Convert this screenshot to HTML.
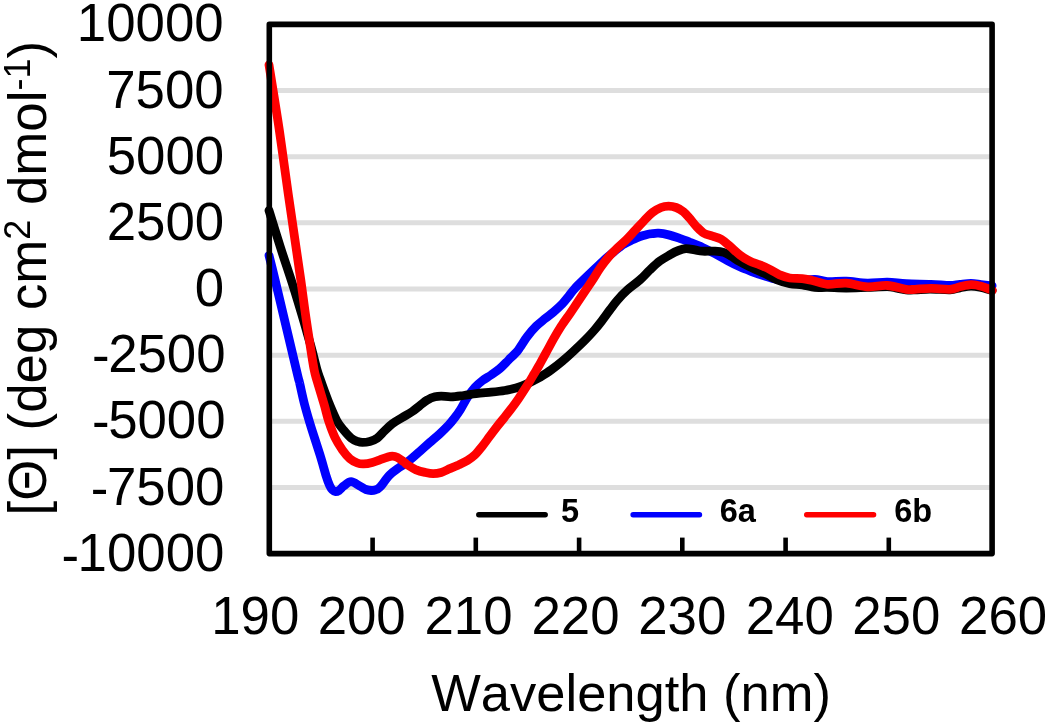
<!DOCTYPE html>
<html><head><meta charset="utf-8"><title>CD spectra</title>
<style>
html,body{margin:0;padding:0;background:#fff;}
body{width:1050px;height:726px;overflow:hidden;}
svg{display:block;will-change:transform;font-family:"Liberation Sans",sans-serif;font-kerning:none;}
text{fill:#000;}
</style></head>
<body>
<svg width="1050" height="726" viewBox="0 0 1050 726">
<rect width="1050" height="726" fill="#fff"/>
<g stroke="#dedede" stroke-width="5" fill="none"><line x1="269.3" x2="992.1" y1="90.55" y2="90.55"/><line x1="269.3" x2="992.1" y1="156.70" y2="156.70"/><line x1="269.3" x2="992.1" y1="222.85" y2="222.85"/><line x1="269.3" x2="992.1" y1="289.00" y2="289.00"/><line x1="269.3" x2="992.1" y1="355.15" y2="355.15"/><line x1="269.3" x2="992.1" y1="421.30" y2="421.30"/><line x1="269.3" x2="992.1" y1="487.45" y2="487.45"/></g>
<g fill="none" stroke-width="8.8" stroke-linecap="round" stroke-linejoin="round">
<path stroke="#0000ff" d="M269.0 255.4C270.0 259.5 270.5 260.9 275.1 280.0C279.7 299.1 292.3 353.0 296.4 370.0C300.4 387.0 298.0 376.2 299.4 382.0C300.8 387.8 302.6 397.0 304.7 405.0C306.8 413.0 309.4 421.7 312.0 430.0C314.6 438.3 317.6 447.2 320.0 454.9C322.4 462.6 324.6 470.9 326.2 476.1C327.8 481.3 328.8 483.8 329.9 486.1C330.9 488.4 331.6 489.1 332.5 490.0C333.4 490.9 334.4 491.6 335.5 491.7C336.6 491.8 337.6 491.4 339.0 490.5C340.4 489.6 341.6 487.6 343.6 486.1C345.6 484.6 348.4 481.7 351.1 481.7C353.8 481.7 357.4 484.8 359.9 486.1C362.4 487.4 364.1 488.8 366.0 489.5C367.9 490.2 369.5 490.4 371.1 490.5C372.7 490.6 374.1 490.3 375.5 489.8C376.9 489.3 377.4 489.8 379.8 487.3C382.2 484.8 386.4 478.3 389.8 474.9C393.2 471.5 396.6 469.5 400.0 467.0C403.4 464.5 406.7 462.5 410.0 459.9C413.3 457.3 416.7 454.1 420.0 451.2C423.3 448.3 426.6 445.3 429.9 442.4C433.2 439.5 436.8 436.6 439.9 433.7C443.0 430.8 446.2 427.7 448.7 425.0C451.2 422.3 452.9 420.1 454.9 417.5C456.9 414.9 458.4 412.9 460.5 409.5C462.6 406.1 465.0 401.1 467.4 397.4C469.8 393.7 472.4 390.2 474.9 387.4C477.4 384.6 479.7 382.7 482.4 380.6C485.1 378.5 488.2 377.0 491.1 375.0C494.0 373.0 496.9 371.2 499.8 368.7C502.7 366.2 505.7 362.9 508.6 360.0C511.5 357.1 515.4 353.3 517.3 351.2C519.2 349.1 518.3 349.9 520.0 347.4C521.7 344.9 524.8 339.7 527.5 336.2C530.2 332.7 533.3 329.1 536.2 326.2C539.1 323.3 542.1 321.1 545.0 318.7C547.9 316.3 550.8 314.3 553.7 311.8C556.6 309.3 559.9 306.3 562.4 303.7C564.9 301.1 566.7 298.7 568.7 296.2C570.7 293.7 572.1 291.5 574.5 288.8C576.9 286.1 580.0 283.2 583.3 280.0C586.6 276.8 590.6 273.0 594.5 269.3C598.4 265.6 602.7 261.4 606.7 257.8C610.8 254.2 616.0 250.1 618.8 247.9C621.6 245.7 621.3 245.7 623.3 244.4C625.3 243.2 628.2 241.7 631.0 240.4C633.8 239.1 637.4 237.4 639.9 236.5C642.4 235.6 644.2 235.2 646.2 234.7C648.2 234.2 649.9 233.9 652.0 233.7C654.1 233.4 655.8 233.0 658.6 233.2C661.4 233.4 664.9 234.0 668.6 234.9C672.4 235.8 677.5 237.6 681.1 238.8C684.7 240.0 686.4 240.9 690.0 242.3C693.6 243.7 698.3 245.5 702.5 247.4C706.7 249.3 710.9 251.5 715.0 253.7C719.1 255.9 723.2 258.3 727.4 260.5C731.5 262.7 735.7 264.9 739.9 266.8C744.1 268.7 748.2 270.2 752.4 271.8C756.6 273.4 760.8 274.8 764.9 276.1C769.0 277.4 772.8 278.7 777.0 279.5C781.2 280.3 785.8 280.8 790.0 281.0C794.2 281.2 797.9 280.8 802.0 280.5C806.1 280.2 810.6 279.1 814.8 279.3C819.0 279.5 822.2 281.3 827.4 281.6C832.6 281.9 839.5 280.9 846.2 281.2C852.9 281.4 860.5 283.0 867.4 283.1C874.2 283.2 880.8 282.0 887.3 282.1C893.8 282.2 898.8 283.3 906.1 283.7C913.4 284.1 923.7 284.0 931.0 284.3C938.3 284.6 945.2 285.5 950.0 285.5C954.8 285.5 956.5 284.6 960.0 284.3C963.5 284.0 967.5 283.5 971.0 283.5C974.5 283.5 977.5 284.1 981.0 284.5C984.5 284.9 990.2 285.6 992.1 285.8"/>
<path stroke="#000000" d="M269.0 210.5C270.9 216.7 276.7 235.5 280.5 247.5C284.3 259.5 288.3 270.9 292.0 282.5C295.7 294.1 300.0 308.5 302.7 317.4C305.4 326.3 306.4 330.6 308.0 336.0C309.6 341.4 310.5 344.3 312.0 350.0C313.5 355.7 315.7 365.0 317.1 370.0C318.5 375.0 319.2 376.2 320.5 380.0C321.8 383.8 323.4 388.3 325.0 392.5C326.6 396.7 327.8 400.2 329.8 405.0C331.8 409.8 334.7 416.8 337.0 421.0C339.3 425.2 341.2 427.1 343.6 430.0C346.0 432.9 348.8 436.2 351.1 438.1C353.4 440.0 355.5 440.7 357.4 441.4C359.3 442.1 360.3 442.4 362.4 442.4C364.5 442.4 367.3 442.1 369.8 441.4C372.3 440.7 374.8 439.9 377.3 438.1C379.8 436.3 382.3 433.0 384.8 430.6C387.3 428.2 389.4 425.9 392.3 423.7C395.2 421.5 399.0 419.5 402.3 417.5C405.6 415.5 409.4 413.5 412.3 411.5C415.2 409.5 417.5 407.4 420.0 405.5C422.5 403.6 425.0 401.3 427.5 399.9C430.0 398.4 432.7 397.4 435.0 396.8C437.3 396.2 438.5 396.2 441.2 396.2C443.9 396.2 447.5 396.9 451.2 396.8C454.9 396.7 459.5 396.0 463.6 395.5C467.8 395.0 471.5 394.2 476.1 393.7C480.7 393.1 486.3 392.7 491.1 392.2C495.9 391.7 500.7 391.2 504.8 390.5C508.9 389.8 512.5 389.1 516.0 388.1C519.5 387.1 522.9 385.7 526.0 384.3C529.1 382.9 532.5 381.1 534.8 379.9C537.1 378.7 537.3 379.0 540.0 377.3C542.7 375.6 547.5 372.6 551.2 369.9C554.9 367.2 558.7 364.2 562.4 361.1C566.1 358.0 569.9 354.6 573.6 351.1C577.4 347.6 581.4 343.9 584.9 340.3C588.4 336.7 592.0 332.9 594.9 329.5C597.8 326.1 599.8 323.4 602.3 320.2C604.8 316.9 607.3 313.3 609.8 310.0C612.3 306.7 614.4 303.6 617.3 300.3C620.2 297.0 623.2 293.7 627.0 290.3C630.8 286.9 636.1 283.3 639.9 279.9C643.7 276.5 646.6 273.0 649.9 269.9C653.2 266.8 656.5 263.6 659.8 261.1C663.1 258.6 666.7 256.7 669.8 254.9C672.9 253.1 675.9 251.5 678.6 250.5C681.3 249.5 683.3 248.8 686.0 248.7C688.7 248.6 692.0 249.5 694.8 249.9C697.5 250.3 699.1 251.0 702.5 251.2C705.9 251.4 711.5 251.0 715.0 251.2C718.5 251.4 721.0 251.6 723.7 252.4C726.4 253.2 728.5 254.6 731.2 256.2C733.9 257.8 736.4 259.8 739.9 261.8C743.4 263.8 748.2 266.0 752.4 268.0C756.6 270.0 760.8 271.6 764.9 273.6C769.0 275.6 773.1 278.2 777.3 279.9C781.4 281.6 785.6 282.8 789.8 283.6C794.0 284.4 798.1 284.3 802.3 284.9C806.5 285.5 810.6 287.0 814.8 287.4C819.0 287.8 822.2 287.3 827.4 287.4C832.6 287.5 839.5 288.0 846.2 288.0C852.9 288.0 860.5 287.6 867.4 287.4C874.2 287.1 882.4 286.4 887.3 286.5C892.2 286.6 893.9 287.6 897.0 288.2C900.1 288.8 903.0 289.5 906.0 289.8C909.0 290.1 911.0 290.0 915.0 289.9C919.0 289.8 924.2 289.0 930.0 289.0C935.8 289.0 945.0 290.0 950.0 289.8C955.0 289.6 956.5 288.4 960.0 287.8C963.5 287.2 967.5 286.2 971.0 286.2C974.5 286.1 977.5 286.8 981.0 287.5C984.5 288.2 990.2 290.0 992.1 290.5"/>
<path stroke="#ff0000" d="M269.0 64.9C270.7 75.8 276.1 108.3 279.3 130.0C282.5 151.7 284.8 170.0 288.4 195.0C292.0 220.0 297.9 259.6 300.8 280.0C303.7 300.4 304.4 307.0 305.9 317.4C307.4 327.8 308.3 333.6 309.7 342.4C311.1 351.2 312.9 363.4 314.2 370.0C315.5 376.6 315.7 376.2 317.4 382.0C319.1 387.8 322.4 398.5 324.3 405.0C326.2 411.5 326.9 415.8 328.7 421.2C330.5 426.6 332.6 432.6 334.9 437.4C337.2 442.2 339.9 446.3 342.4 449.9C344.9 453.4 347.4 456.5 349.9 458.7C352.4 460.9 355.1 462.1 357.4 463.0C359.7 463.9 361.1 464.0 363.6 463.9C366.1 463.8 369.6 463.1 372.3 462.4C375.0 461.7 377.3 460.8 379.8 459.9C382.3 459.0 385.2 457.8 387.3 457.2C389.4 456.6 390.6 456.2 392.3 456.2C394.0 456.2 395.4 456.4 397.3 457.4C399.2 458.4 402.3 460.8 404.0 462.0C405.7 463.2 405.5 463.6 407.5 464.9C409.5 466.2 413.3 468.6 416.2 469.9C419.1 471.1 422.2 471.8 425.0 472.4C427.8 473.0 430.4 473.6 433.1 473.6C435.8 473.6 438.4 473.2 441.2 472.4C444.0 471.6 447.0 469.9 449.9 468.6C452.8 467.4 455.7 466.2 458.6 464.9C461.5 463.5 464.7 462.2 467.4 460.5C470.1 458.8 472.4 457.3 474.9 454.9C477.4 452.5 479.8 449.3 482.3 446.2C484.8 443.1 487.3 439.5 489.8 436.2C492.3 432.9 494.8 429.4 497.3 426.2C499.8 423.0 502.5 419.8 504.8 416.9C507.1 414.0 508.7 412.0 511.0 409.0C513.3 406.0 515.9 402.5 518.5 398.7C521.1 394.9 524.1 390.3 526.7 386.2C529.3 382.1 532.0 377.4 534.0 374.0C536.0 370.6 537.0 369.1 539.0 365.5C541.0 361.9 543.8 356.9 546.2 352.4C548.7 347.9 551.2 343.1 553.7 338.7C556.2 334.3 558.5 330.4 561.2 326.2C563.9 322.0 567.2 317.6 569.9 313.7C572.6 309.8 574.7 306.5 577.4 302.5C580.1 298.5 583.4 293.5 586.1 289.5C588.8 285.5 591.1 282.2 593.5 278.5C595.9 274.8 598.0 271.1 600.5 267.5C603.0 263.9 605.9 260.1 608.7 256.8C611.5 253.6 614.5 250.8 617.4 248.0C620.3 245.2 623.3 242.8 626.2 239.9C629.1 237.0 632.0 233.7 634.9 230.6C637.8 227.5 640.7 224.2 643.6 221.2C646.5 218.2 649.5 214.8 652.4 212.5C655.3 210.2 658.4 208.6 661.1 207.5C663.8 206.4 666.1 206.2 668.6 206.2C671.1 206.2 673.6 206.6 676.1 207.5C678.6 208.4 681.3 210.0 683.6 211.9C685.9 213.8 687.9 216.3 690.0 218.7C692.1 221.1 693.9 223.8 696.2 226.2C698.5 228.6 701.0 231.4 703.7 233.1C706.4 234.8 709.6 235.2 712.5 236.2C715.4 237.2 718.3 237.6 721.2 239.3C724.1 241.0 726.8 243.6 729.9 246.2C733.0 248.8 736.6 252.4 739.9 254.9C743.2 257.4 746.6 259.5 749.9 261.2C753.2 262.9 756.6 263.5 759.9 264.9C763.2 266.2 766.5 267.6 769.8 269.3C773.1 271.0 776.5 273.4 779.8 274.9C783.1 276.3 786.0 277.4 789.8 278.0C793.5 278.6 798.5 278.2 802.3 278.6C806.0 279.0 808.1 279.6 812.3 280.5C816.5 281.4 821.8 283.9 827.4 284.3C833.0 284.7 839.5 282.7 846.2 283.1C852.9 283.5 860.5 286.4 867.4 286.8C874.2 287.2 880.8 285.1 887.3 285.5C893.8 285.9 901.5 288.7 906.1 289.3C910.7 289.9 910.8 289.5 915.0 289.3C919.2 289.1 925.4 288.4 931.2 288.4C937.0 288.4 945.1 289.6 949.9 289.3C954.7 289.0 956.4 287.6 959.9 286.8C963.4 286.0 967.6 284.8 971.1 284.7C974.6 284.6 978.0 285.4 981.1 286.2C984.2 287.0 987.9 288.6 989.8 289.3C991.7 290.0 991.9 290.3 992.3 290.5"/>
</g>
<g stroke="#000" stroke-width="4.6" fill="none"><line x1="372.6" x2="372.6" y1="537.6" y2="553.6"/><line x1="475.8" x2="475.8" y1="537.6" y2="553.6"/><line x1="579.1" x2="579.1" y1="537.6" y2="553.6"/><line x1="682.3" x2="682.3" y1="537.6" y2="553.6"/><line x1="785.6" x2="785.6" y1="537.6" y2="553.6"/><line x1="888.8" x2="888.8" y1="537.6" y2="553.6"/></g>
<rect x="269.3" y="24.4" width="722.8" height="529.2" fill="none" stroke="#000" stroke-width="5.6" stroke-linejoin="round"/>
<g stroke-width="5.4" stroke-linecap="round" fill="none">
<line x1="478.8" x2="545.2" y1="514.8" y2="514.8" stroke="#000"/>
<line x1="633.1" x2="699.5" y1="514.8" y2="514.8" stroke="#0000ff"/>
<line x1="806.7" x2="873.6" y1="514.8" y2="514.8" stroke="#ff0000"/>
</g>
<g font-size="32.5" font-weight="bold">
<text x="561" y="522.2">5</text>
<text x="719.8" y="522.2">6a</text>
<text x="894.3" y="522.2">6b</text>
</g>
<g font-size="52.8"><text x="223.7" y="41.4" text-anchor="end">10000</text><text x="223.7" y="107.5" text-anchor="end">7500</text><text x="224.2" y="173.7" text-anchor="end">5000</text><text x="224.2" y="239.9" text-anchor="end">2500</text><text x="224.2" y="306.0" text-anchor="end">0</text><text x="224.2" y="372.1" text-anchor="end"><tspan dy="0.5" dx="1.4">-</tspan><tspan dy="-0.5" dx="-1.4">2500</tspan></text><text x="224.2" y="438.3" text-anchor="end"><tspan dy="1.0" dx="1.4">-</tspan><tspan dy="-1.0" dx="-1.4">5000</tspan></text><text x="223.0" y="504.5" text-anchor="end"><tspan dy="1.1" dx="1.4">-</tspan><tspan dy="-1.1" dx="-1.4">7500</tspan></text><text x="223.0" y="570.6" text-anchor="end"><tspan dy="2.0" dx="1.4">-</tspan><tspan dy="-2.0" dx="-1.4">10000</tspan></text><text x="255.3" y="634" text-anchor="middle">190</text><text x="361.7" y="634" text-anchor="middle">200</text><text x="468.5" y="634" text-anchor="middle">210</text><text x="575.5" y="634" text-anchor="middle">220</text><text x="682.3" y="634" text-anchor="middle">230</text><text x="789.8" y="634" text-anchor="middle">240</text><text x="896.3" y="634" text-anchor="middle">250</text><text x="1003.1" y="634" text-anchor="middle">260</text></g>
<text x="431.3" y="711.2" font-size="52.5">Wavelength (nm)</text>
<text transform="translate(45.8 515.5) rotate(-90)" font-size="52.8">[Θ] (deg cm<tspan font-size="36" dy="-15.5">2</tspan><tspan dy="15.5"> dmol</tspan><tspan font-size="36" dy="-15.5">-1</tspan><tspan dy="15.5">)</tspan></text>
</svg>
</body></html>
